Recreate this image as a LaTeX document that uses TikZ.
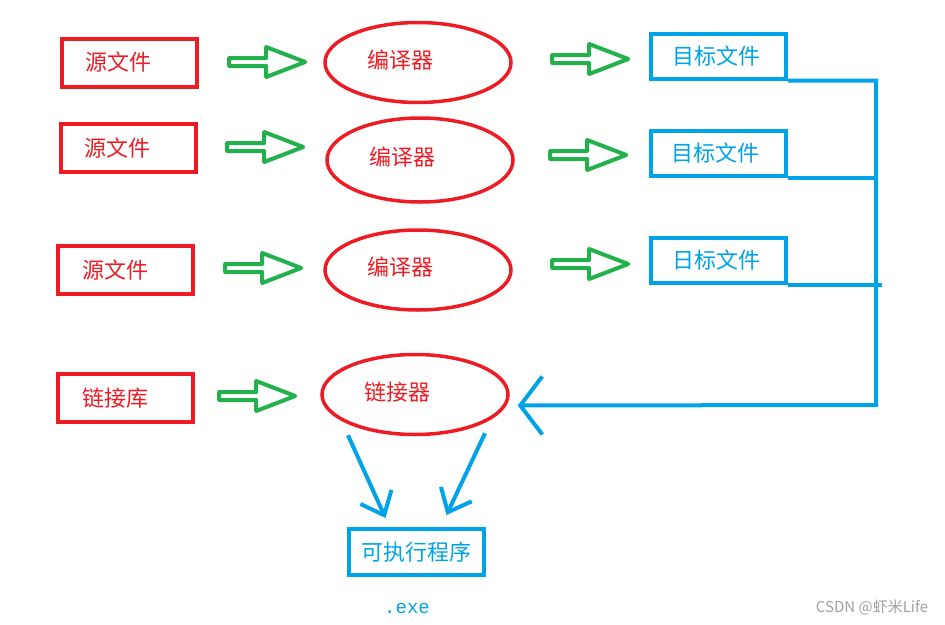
\documentclass[tikz,border=0pt]{standalone}
\usepackage{fontspec}
\setmainfont{Noto Sans CJK SC}
\newfontfamily\exefont{Liberation Mono}
\usetikzlibrary{positioning,shapes.geometric,shapes.arrows,arrows.meta,calc}
\definecolor{srccolor}{RGB}{237,28,36}
\definecolor{objcolor}{RGB}{0,162,232}
\definecolor{flowcolor}{RGB}{34,177,76}
\definecolor{markcolor}{RGB}{160,160,160}

\begin{document}
\begin{tikzpicture}[
    x=1pt, y=-1pt,
    cjk/.style={font=\fontsize{22}{26}\selectfont},
    src/.style={rectangle, draw=srccolor, line width=4pt, text=srccolor, minimum width=135pt, minimum height=48pt, inner xsep=24pt, text width=87pt, align=left, cjk},
    obj/.style={rectangle, draw=objcolor, line width=4pt, text=objcolor, minimum width=135pt, minimum height=45pt, inner xsep=21pt, text width=93pt, align=left, cjk},
    exefile/.style={rectangle, draw=objcolor, line width=4pt, text=objcolor, minimum width=135pt, minimum height=46pt, cjk},
    comp/.style={ellipse, draw=srccolor, line width=3.5pt, text=srccolor, minimum width=186pt, minimum height=80pt, inner sep=0pt, text width=102pt, text height=20pt, text depth=9pt, align=left, cjk},
    flow/.style={single arrow, draw=flowcolor, line width=4pt, line join=round, minimum height=76pt, minimum width=30pt, single arrow head extend=5.5pt, single arrow tip angle=42, inner sep=0pt},
    wire/.style={draw=objcolor, line width=4pt},
    link/.style={wire, -{Straight Barb[length=22pt, width=58pt]}},
    down/.style={wire, -{Straight Barb[length=20pt, width=34pt]}}
]
\useasboundingbox (0,0) rectangle (945,624);

% ===== SOURCES =====
\node[src] (src1) at (129,62.5) {源文件};
\node[src] (src2) at (128,148) {源文件};
\node[src] (src3) at (125.5,270) {源文件};
\node[src] (lib) at (125.5,398) {链接库};

% ===== COMPILERS =====
\node[comp] (cc1) at (418,62.5) {编译器};
\node[comp, minimum height=84pt] (cc2) at (420,160) {编译器};
\node[comp] (cc3) at (418,270) {编译器};
\node[comp] (ld) at (415,394.5) {链接器};

% ===== OBJECT FILES =====
\node[obj] (obj1) at (718.5,56) {目标文件};
\node[obj] (obj2) at (718,153.5) {目标文件};
\node[obj] (obj3) at (718.5,260) {日标文件};

% ===== GREEN ARROWS =====
\node[flow] (in1) at (262,62) {};
\node[flow] (in2) at (260,147) {};
\node[flow] (in3) at (258,268) {};
\node[flow] (in4) at (252,396) {};
\node[flow] (out1) at (585,59) {};
\node[flow] (out2) at (583,155) {};
\node[flow] (out3) at (585,264) {};

% ===== OUTPUT =====
\node[exefile] (exe) at (416.5,552) {可执行程序};
\node[text=objcolor, font=\exefont\fontsize{19}{22}\selectfont] (ext) at (407,608) {.exe};

% ===== LINKING =====
\coordinate (bus) at (876,405);
\coordinate (ldin) at ($(ld.east)+(8,11)$);
\draw[link] (obj1.south east) -| (bus) -- (ldin);
\draw[wire] (obj2.south east) -- (obj2.south east -| bus);
\draw[wire] (obj3.south east) -- ([xshift=6pt]obj3.south east -| bus);

\draw[down] ($(ld.south)+(-67,-1)$) -- ($(exe.north)+(-31,-9)$);
\draw[down] ($(ld.south)+(70,-3)$) -- ($(exe.north)+(30,-12)$);

% ===== WATERMARK =====
\node[text=markcolor, font=\fontsize{15}{18}\selectfont] (mark) at (872,607) {CSDN @虾米Life};

\end{tikzpicture}
\end{document}
